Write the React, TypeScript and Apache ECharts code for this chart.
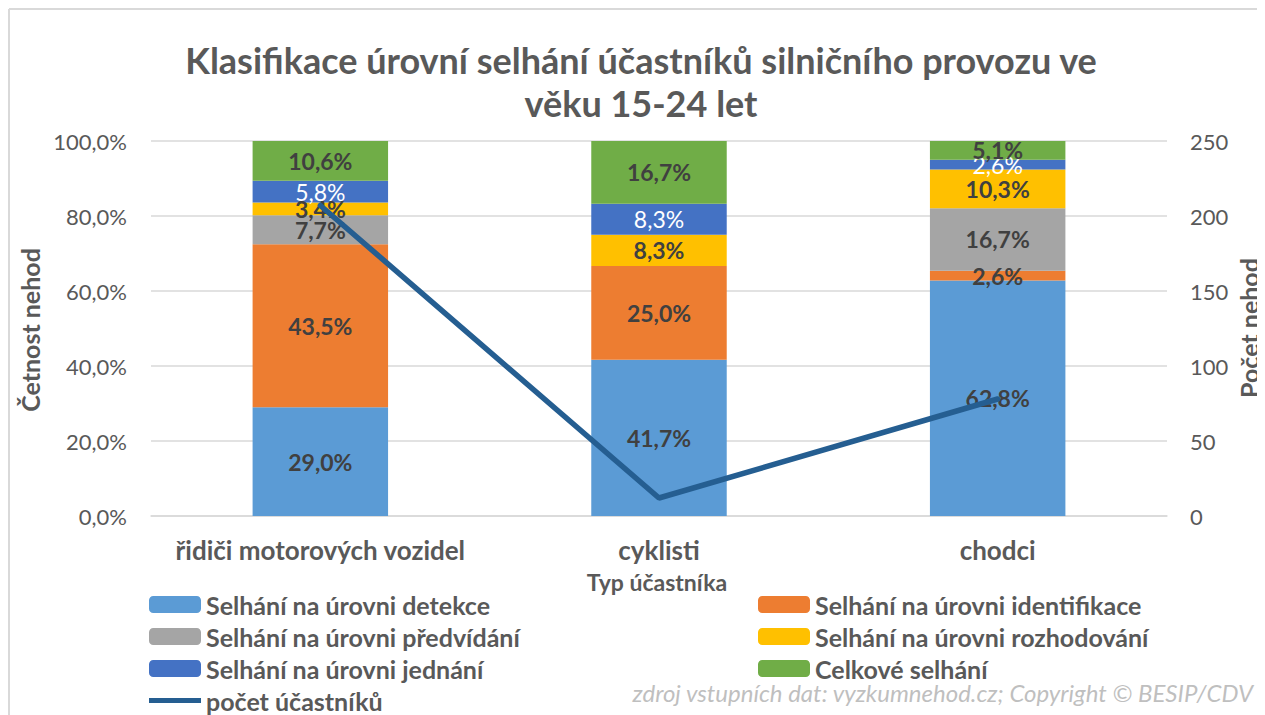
import React, { useEffect, useRef } from "react";
import * as echarts from "echarts";

const categories = ["řidiči motorových vozidel", "cyklisti", "chodci"];
const detekce = [29.0, 41.7, 62.8];
const identifikace = [43.5, 25.0, 2.6];
const predvidani = [7.7, 0, 16.7];
const rozhodovani = [3.4, 8.3, 10.3];
const jednani = [5.8, 8.3, 2.6];
const celkove = [10.6, 16.7, 5.1];
const pocet = [207, 12, 78];

const FONT = "Lato";
const GREY = "#595959";
const DARK = "#404040";

const fmtPct = (v: number) => v.toFixed(1).replace(".", ",") + "%";

export default function App() {
  const ref = useRef<HTMLDivElement>(null);
  useEffect(() => {
    if (!ref.current) return;
    document.body.style.overflow = "hidden";
    const chart = echarts.init(ref.current, null, { renderer: "svg" });
    const barLabel = (color: string, weight: string) => ({
      show: true,
      position: "inside" as const,
      fontFamily: FONT,
      fontSize: 23,
      fontWeight: weight,
      color,
      formatter: (p: any) => (p.value > 0 ? fmtPct(p.value) : ""),
    });
    const bar = (name: string, data: number[], color: string, lblColor = DARK, weight = "bold") => ({
      name,
      type: "bar" as const,
      stack: "total",
      barWidth: "40%",
      data,
      itemStyle: { color },
      label: barLabel(lblColor, weight),
    });
    const legendText = { fontFamily: FONT, fontSize: 25, fontWeight: "bold" as const, color: GREY, lineHeight: 25 };
    const legendBase = {
      orient: "vertical" as const,
      top: 584,
      padding: 0,
      itemWidth: 52,
      itemHeight: 17,
      itemGap: 7,
      height: 150,
      textStyle: legendText,
    };
    chart.setOption({
      animation: false,
      textStyle: { fontFamily: FONT },
      grid: { left: 143, right: 98, top: 133, bottom: 199, containLabel: false },
      xAxis: {
        type: "category",
        data: categories,
        axisTick: { show: false },
        axisLine: { lineStyle: { color: "#d9d9d9", width: 1.5 } },
        axisLabel: { interval: 0, fontFamily: FONT, fontSize: 26, fontWeight: "bold", color: GREY, margin: 21 },
      },
      yAxis: [
        {
          type: "value",
          min: 0,
          max: 100,
          interval: 20,
          axisLabel: { fontFamily: FONT, fontSize: 22, color: GREY, margin: 24, formatter: (v: number) => fmtPct(v) },
          splitLine: { lineStyle: { color: "#d9d9d9", width: 1.5 } },
          axisLine: { show: false },
          axisTick: { show: false },
        },
        {
          type: "value",
          min: 0,
          max: 250,
          interval: 50,
          axisLabel: { fontFamily: FONT, fontSize: 22, color: GREY, margin: 23 },
          splitLine: { show: false },
          axisLine: { show: false },
          axisTick: { show: false },
        },
      ],
      legend: [
        {
          ...legendBase,
          left: 141,
          data: [
            "Selhání na úrovni detekce",
            "Selhání na úrovni předvídání",
            "Selhání na úrovni jednání",
            { name: "počet účastníků", icon: "path://M0,0 H52 V5 H0 Z" },
          ],
        },
        {
          ...legendBase,
          left: 750,
          data: ["Selhání na úrovni identifikace", "Selhání na úrovni rozhodování", "Celkové selhání"],
        },
      ],
      series: [
        bar("Selhání na úrovni detekce", detekce, "#5b9bd5"),
        bar("Selhání na úrovni identifikace", identifikace, "#ed7d31"),
        bar("Selhání na úrovni předvídání", predvidani, "#a5a5a5"),
        bar("Selhání na úrovni rozhodování", rozhodovani, "#ffc000"),
        bar("Selhání na úrovni jednání", jednani, "#4472c4", "#ffffff", "normal"),
        bar("Celkové selhání", celkove, "#70ad47"),
        {
          name: "počet účastníků",
          type: "line",
          yAxisIndex: 1,
          data: pocet,
          symbol: "none",
          z: 5,
          itemStyle: { color: "#255e91" },
          lineStyle: { color: "#255e91", width: 5.5, cap: "round" },
        },
      ],
      graphic: [
        { type: "line", shape: { x1: 1, y1: 1, x2: 1257, y2: 1 }, style: { stroke: "#d9d9d9", lineWidth: 2 } },
        { type: "line", shape: { x1: 1, y1: 1, x2: 1, y2: 707 }, style: { stroke: "#d9d9d9", lineWidth: 2 } },
        {
          type: "text",
          x: 633,
          y: 52,
          style: {
            text: "Klasifikace úrovní selhání účastníků silničního provozu ve",
            fontFamily: FONT,
            fontSize: 36,
            fontWeight: "bold",
            fill: GREY,
            align: "center",
            verticalAlign: "middle",
          },
        },
        {
          type: "text",
          x: 633,
          y: 95,
          style: {
            text: "věku 15-24 let",
            fontFamily: FONT,
            fontSize: 36,
            fontWeight: "bold",
            fill: GREY,
            align: "center",
            verticalAlign: "middle",
          },
        },
        {
          type: "text",
          x: 22,
          y: 322,
          rotation: Math.PI / 2,
          style: {
            text: "Četnost nehod",
            fontFamily: FONT,
            fontSize: 25,
            fontWeight: "bold",
            fill: GREY,
            align: "center",
            verticalAlign: "middle",
          },
        },
        {
          type: "text",
          x: 1241,
          y: 320,
          rotation: Math.PI / 2,
          style: {
            text: "Počet nehod",
            fontFamily: FONT,
            fontSize: 25,
            fontWeight: "bold",
            fill: GREY,
            align: "center",
            verticalAlign: "middle",
          },
        },
        {
          type: "text",
          x: 649,
          y: 574,
          style: {
            text: "Typ účastníka",
            fontFamily: FONT,
            fontSize: 23,
            fontWeight: "bold",
            fill: GREY,
            align: "center",
            verticalAlign: "middle",
          },
        },
        {
          type: "text",
          x: 1245,
          y: 684,
          style: {
            text: "zdroj vstupních dat: vyzkumnehod.cz; Copyright © BESIP/CDV",
            fontFamily: FONT,
            fontSize: 24,
            fontStyle: "italic",
            fill: "#bfbfbf",
            align: "right",
            verticalAlign: "middle",
          },
        },
      ],
    });
    return () => chart.dispose();
  }, []);
  return <div ref={ref} style={{ width: 1257, height: 707 }} />;
}
